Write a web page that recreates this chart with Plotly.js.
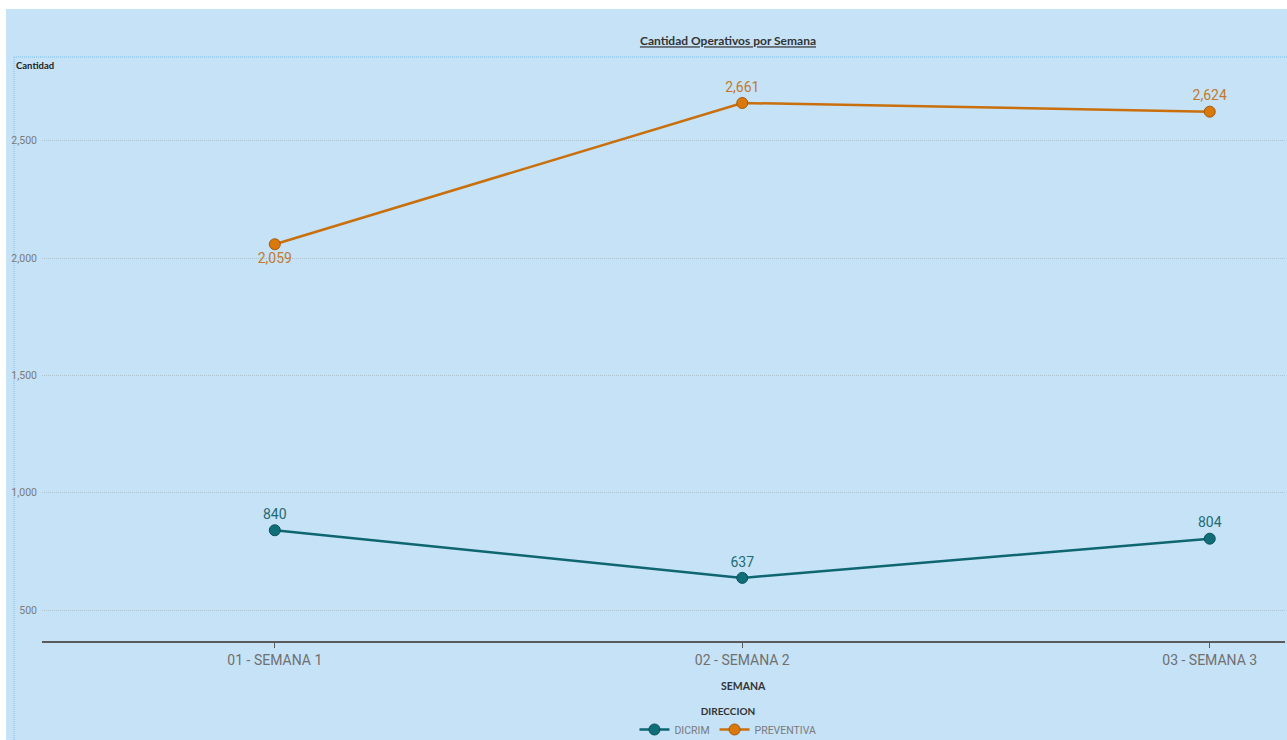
<!DOCTYPE html>
<html>
<head>
<meta charset="utf-8">
<script src="https://cdn.plot.ly/plotly-3.0.1.min.js"></script>
<style>
  html, body { margin: 0; padding: 0; background: #ffffff; overflow: hidden; }
  #chart { position: absolute; left: 6px; top: 9px; width: 1281px; height: 731px; }
</style>
</head>
<body>
<div id="chart"></div>
<script>
const categories = ['01 - SEMANA 1', '02 - SEMANA 2', '03 - SEMANA 3'];
const dicrim = [840, 637, 804];
const preventiva = [2059, 2661, 2624];
const yTickVals = [500, 1000, 1500, 2000, 2500];
const yTickText = ['500', '1,000', '1,500', '2,000', '2,500'];

const FONT = 'Roboto, sans-serif';
const BOLD = 'Lato, "Open Sans", sans-serif';
const teal = '#0E6670';
const orange = '#C96F0C';

const traces = [
  {
    x: categories, y: dicrim, name: 'DICRIM', type: 'scatter', mode: 'lines+markers+text',
    line: {color: teal, width: 2.5},
    marker: {color: '#0F6E78', size: 11, line: {color: '#0A5058', width: 1}},
    text: dicrim.map(v => v.toLocaleString('en-US')),
    textposition: ['top center', 'top center', 'top center'],
    textfont: {family: FONT, size: 14, color: '#1F6B73'},
    cliponaxis: false, hoverinfo: 'x+y'
  },
  {
    x: categories, y: preventiva, name: 'PREVENTIVA', type: 'scatter', mode: 'lines+markers+text',
    line: {color: orange, width: 2.5},
    marker: {color: '#D9780B', size: 11, line: {color: '#A85A08', width: 1}},
    text: preventiva.map(v => v.toLocaleString('en-US')),
    textposition: ['bottom center', 'top center', 'top center'],
    textfont: {family: FONT, size: 14, color: '#C27A2C'},
    cliponaxis: false, hoverinfo: 'x+y'
  }
];

const layout = {
  width: 1281, height: 731,
  margin: {l: 36, r: 2, t: 48, b: 99, pad: 0, autoexpand: false},
  paper_bgcolor: '#C5E2F7',
  plot_bgcolor: 'rgba(0,0,0,0)',
  font: {family: FONT, color: '#666'},
  title: {
    text: '<b><u>Cantidad Operativos por Semana</u></b>',
    font: {family: BOLD, size: 12, color: '#333'},
    xref: 'container', x: 0.5636, xanchor: 'center',
    yref: 'container', y: 0.956, yanchor: 'middle'
  },
  xaxis: {
    type: 'category',
    range: [-0.498, 2.161],
    showgrid: false, zeroline: false,
    showline: true, linecolor: '#5A5A5A', linewidth: 2,
    ticks: 'outside', ticklen: 5, tickcolor: '#5A5A5A', tickwidth: 1,
    tickfont: {family: FONT, size: 14, color: '#707070'},
    fixedrange: true, automargin: false
  },
  yaxis: {
    range: [368, 2857],
    tickvals: yTickVals, ticktext: yTickText,
    showgrid: true, gridcolor: '#AFC3D1', griddash: '1px,1px', gridwidth: 1,
    zeroline: false, showline: false, ticks: '',
    tickfont: {family: FONT, size: 10.5, color: '#7A7A7A'},
    ticklabelstandoff: 4,
    fixedrange: true, automargin: false
  },
  showlegend: true,
  legend: {
    orientation: 'h',
    xref: 'container', x: 0.5636, xanchor: 'center',
    yref: 'container', y: 0.052, yanchor: 'top',
    bgcolor: 'rgba(0,0,0,0)',
    font: {family: FONT, size: 10.5, color: '#7A7A7A'},
    title: {text: '<b>DIRECCION</b>', side: 'top center', font: {family: BOLD, size: 10, color: '#333'}},
    tracegroupgap: 0
  },
  annotations: [
    {text: '<b>Cantidad</b>', xref: 'paper', yref: 'paper', x: -28 / 1243, y: 1 - 8 / 584,
     xanchor: 'left', yanchor: 'middle', showarrow: false,
     font: {family: BOLD, size: 9.5, color: '#222'}},
    {text: '<b>SEMANA</b>', xref: 'paper', yref: 'paper', x: (743 - 42) / 1243, y: -(686 - 641) / 584,
     xanchor: 'center', yanchor: 'middle', showarrow: false,
     font: {family: BOLD, size: 10.5, color: '#333'}}
  ],
  shapes: [
    {type: 'line', xref: 'paper', yref: 'paper', x0: -28 / 1243, x1: 1.01, y0: 1, y1: 1,
     line: {color: '#7DC0F0', width: 1, dash: '1px,1px'}, layer: 'below'},
    {type: 'line', xref: 'paper', yref: 'paper', x0: -28 / 1243, x1: -28 / 1243, y0: 1, y1: -0.2,
     line: {color: '#7DC0F0', width: 1, dash: '1px,1px'}, layer: 'below'}
  ]
};

Plotly.newPlot('chart', traces, layout, {displayModeBar: false, responsive: false});
</script>
</body>
</html>
